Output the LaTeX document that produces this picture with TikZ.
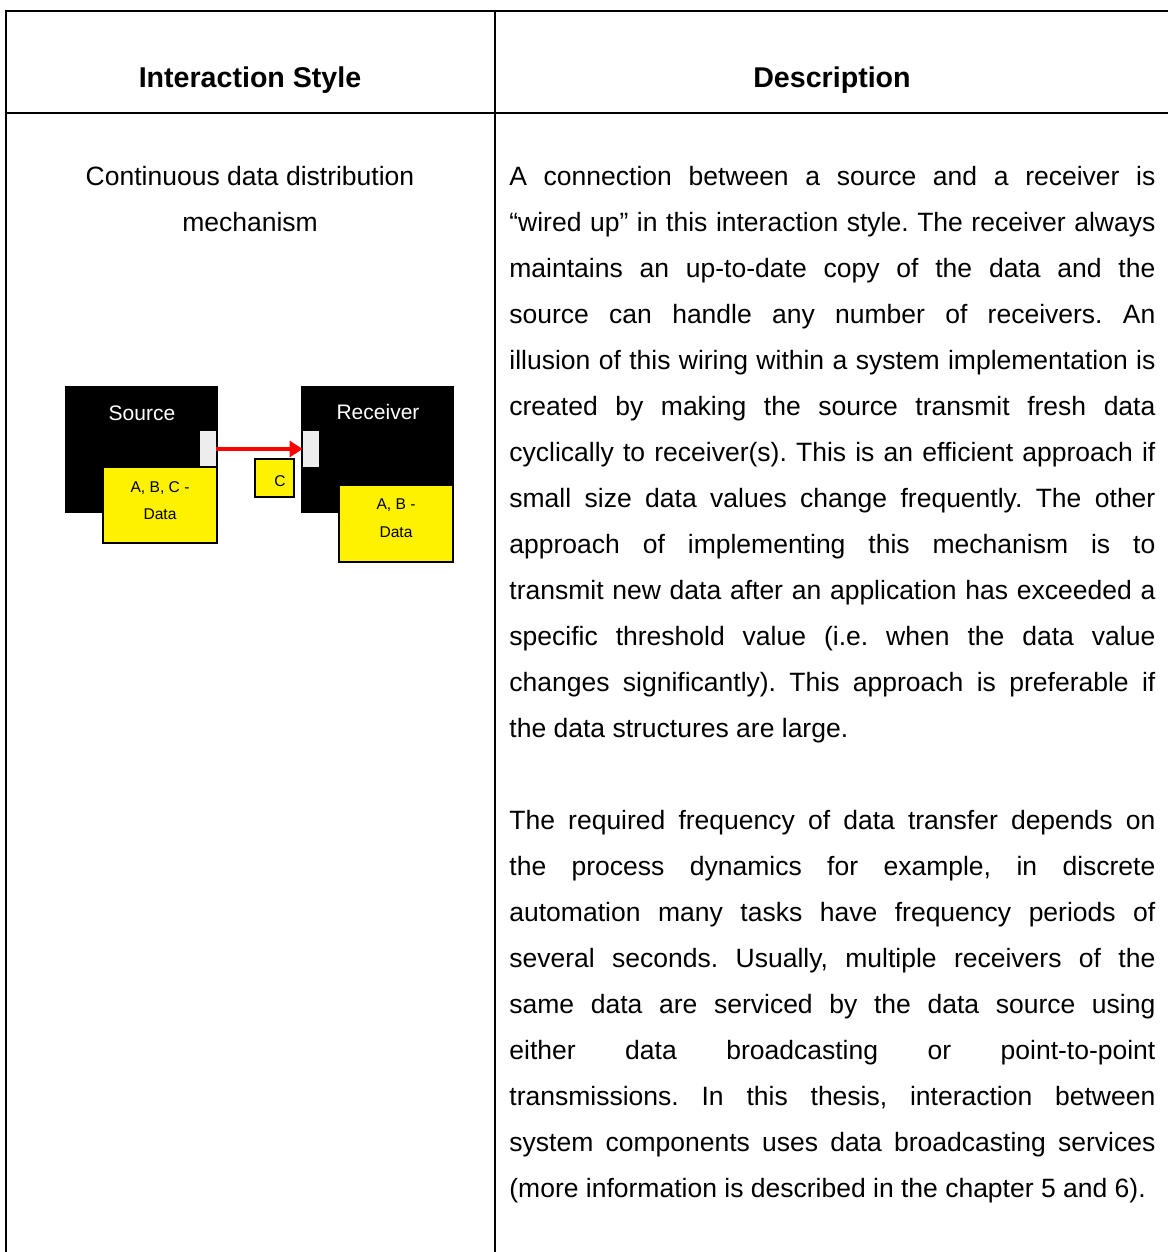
\documentclass[tikz,border=0pt]{standalone}
\usepackage{fontspec}
\setmainfont{Liberation Sans}
\usetikzlibrary{arrows.meta}
\frenchspacing
\begin{document}
\begin{tikzpicture}[x=0.5pt,y=-0.5pt,
  rule/.style={line width=1pt},
  head/.style={font=\bfseries\fontsize{14.3}{16}\selectfont, inner sep=0pt, anchor=base},
  body/.style={font=\fontsize{13.25}{16}\selectfont, inner sep=0pt, anchor=base west},
  cell/.style={font=\fontsize{13.25}{16}\selectfont, inner sep=0pt, anchor=base},
  blk/.style={fill=black, minimum width=76.5pt, minimum height=63.5pt, inner sep=0pt},
  portbox/.style={fill=black!7, minimum width=8pt, minimum height=18pt, inner sep=0pt},
  datab/.style={fill=yellow, draw=black, line width=0.6pt, minimum width=57pt, minimum height=38pt, inner sep=0pt},
  blklabel/.style={text=white, font=\fontsize{10.5}{12}\selectfont, inner sep=0pt, anchor=base},
  datalabel/.style={font=\fontsize{7.8}{9}\selectfont, inner sep=0pt, anchor=base},
  flow/.style={draw=red, line width=1.6pt, -{Triangle[length=6.5pt,width=8pt]}}
]
\useasboundingbox (0,0) rectangle (1168,1252);
\fill[white] (0,0) rectangle (1168,1252);

% table rules
\draw[rule] (6,1252) -- (6,11) -- (1168,11);
\draw[rule] (6,113) -- (1168,113);
\draw[rule] (495,11) -- (495,1252);

% header row
\node[head] (hstyle) at (250,88) {Interaction Style};
\node[head] (hdesc) at (832,88) {Description};

% left cell
\node[cell] (name1) at (250,185) {Continuous data distribution};
\node[cell] (name2) at (250,231) {mechanism};

% source / receiver sketch
\node[blk] (src) at (141.5,449.5) {};
\node[blk] (rcv) at (377.5,449.5) {};
\node[blklabel] (srclabel) at (142,420) {Source};
\node[blklabel] (rcvlabel) at (378,419) {Receiver};
\node[portbox] (srcport) at (208,449) {};
\node[portbox] (rcvport) at (311,449) {};
\node[datab] (srcdata) at (160,505) {};
\node[datab, minimum height=38.5pt] (rcvdata) at (396,523.5) {};
\node[datalabel] (srcdata1) at (160,492) {A, B, C -};
\node[datalabel] (srcdata2) at (160,519) {Data};
\node[datalabel] (rcvdata1) at (396,509) {A, B -};
\node[datalabel] (rcvdata2) at (396,537) {Data};
\node[datab, minimum width=19.5pt, minimum height=19pt] (cbox) at (274.5,478) {};
\node[datalabel] (clabel) at (280,486) {C};
\draw[flow] (srcport.east) -- (rcvport.west);

% description, first paragraph
\foreach \t [count=\i] in {
  {A connection between a source and a receiver is},
  {“wired up” in this interaction style. The receiver always},
  {maintains an up-to-date copy of the data and the},
  {source can handle any number of receivers. An},
  {illusion of this wiring within a system implementation is},
  {created by making the source transmit fresh data},
  {cyclically to receiver(s). This is an efficient approach if},
  {small size data values change frequently. The other},
  {approach of implementing this mechanism is to},
  {transmit new data after an application has exceeded a},
  {specific threshold value (i.e. when the data value},
  {changes significantly). This approach is preferable if}}
  \node[body] (pa\i) at (509,{185+46*(\i-1)}) {\makebox[323pt][s]{\t}};
\node[body] (pa13) at (509,737) {the data structures are large.};

% description, second paragraph
\foreach \t [count=\i] in {
  {The required frequency of data transfer depends on},
  {the process dynamics for example, in discrete},
  {automation many tasks have frequency periods of},
  {several seconds. Usually, multiple receivers of the},
  {same data are serviced by the data source using},
  {either data broadcasting or point-to-point},
  {transmissions. In this thesis, interaction between},
  {system components uses data broadcasting services}}
  \node[body] (pb\i) at (509,{829+46*(\i-1)}) {\makebox[323pt][s]{\t}};
\node[body] (pb9) at (509,1197) {(more information is described in the chapter 5 and 6).};
\end{tikzpicture}
\end{document}
